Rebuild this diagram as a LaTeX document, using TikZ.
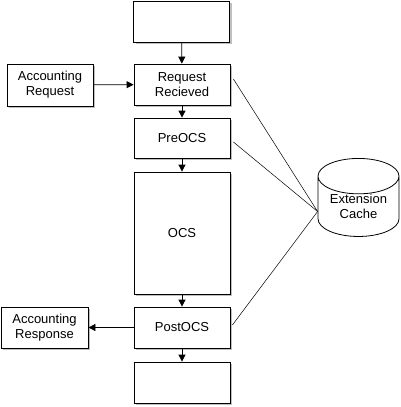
\documentclass[tikz,border=0pt]{standalone}
\usepackage{fontspec}
\setmainfont{Liberation Sans}
\usetikzlibrary{calc}
\usetikzlibrary{positioning}
\usetikzlibrary{shapes.geometric}
\usetikzlibrary{shadows}
\usetikzlibrary{arrows.meta}
\tikzset{
  stagebox/.style = {draw, line width=0.8pt, fill=white, align=center,
    minimum width=96pt, minimum height=41pt, inner sep=0pt,
    font=\fontsize{13}{15}\selectfont,
    drop shadow={shadow xshift=2pt, shadow yshift=-2pt, fill=black!25, opacity=1}},
  flow/.style = {line width=0.8pt, -{Triangle[length=7pt, width=7pt]}},
  cacheline/.style = {line width=0.5pt}
}
\begin{document}
\begin{tikzpicture}[x=1pt, y=-1pt]
      \useasboundingbox (0,0) rectangle (400,407);

      \node[stagebox] (start) at (181.5,21.5) {};
      \node[stagebox] (received) at (182,84.5) {Request\\Recieved};
      \node[stagebox, minimum width=86pt, minimum height=42pt] (acctreq) at (50,85) {Accounting\\Request};
      \node[stagebox, minimum height=40pt] (preocs) at (182,138) {PreOCS};
      \node[stagebox, minimum height=122pt] (ocs) at (182,233) {OCS};
      \node[stagebox] (postocs) at (182,327.5) {PostOCS};
      \node[stagebox, minimum width=87pt] (acctresp) at (44.5,327.5) {Accounting\\Response};
      \node[stagebox] (finish) at (182,382.5) {};

      \node[cylinder, shape border rotate=90, aspect=0.62, draw, line width=0.8pt,
        minimum width=81pt, minimum height=77pt, inner sep=0pt, align=center,
        font=\fontsize{13}{15}\selectfont] (cache) at (358.5,206.5) {Extension\\Cache};
      \coordinate (hub) at ([yshift=-5pt]cache.west);

      \draw[flow] (start) -- (received);
      \draw[flow] (acctreq) -- (received);
      \draw[flow] (received) -- (preocs);
      \draw[flow] (preocs) -- (ocs);
      \draw[flow] (ocs) -- (postocs);
      \draw[flow] (postocs) -- (acctresp);
      \draw[flow] (postocs) -- (finish);

      \draw[cacheline] ([xshift=3pt, yshift=5.5pt]received.east) -- (hub);
      \draw[cacheline] ([xshift=3pt, yshift=-4pt]preocs.east) -- (hub);
      \draw[cacheline] ([xshift=2pt, yshift=2.5pt]postocs.east) -- (hub);
    \end{tikzpicture}
\end{document}
